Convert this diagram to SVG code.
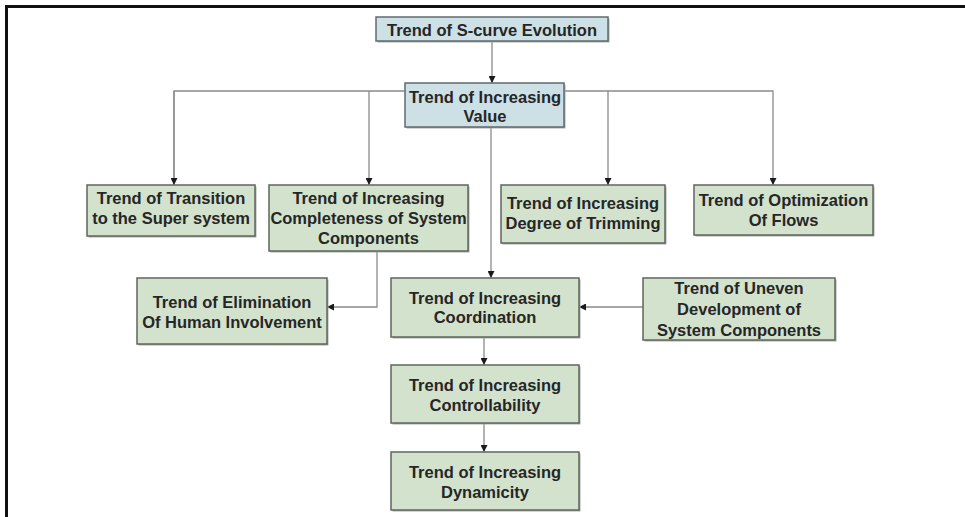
<svg xmlns="http://www.w3.org/2000/svg" width="965" height="517" viewBox="0 0 965 517">
<defs>
<style>
.blue{fill:#cde0e5;stroke:#5f6b6d;stroke-width:1.5}
.green{fill:#d3e2cd;stroke:#5f665c;stroke-width:1.5}
.sh{fill:#a9ada8}
text{font-family:"Liberation Sans",Arial,sans-serif;font-weight:bold;font-size:16.5px;fill:#262626;text-anchor:middle}
.ln{fill:none;stroke:#8a8a8a;stroke-width:1.3}
</style>
<marker id="ah" viewBox="0 0 8 8" refX="8" refY="4" markerWidth="7" markerHeight="7" markerUnits="userSpaceOnUse" orient="auto">
<path d="M0,0 L8,4 L0,8 Z" fill="#1a1a1a"/>
</marker>
</defs>
<rect width="965" height="517" fill="#ffffff"/>
<g id="frame">
<path d="M6.5,517 V6.5 H965" fill="none" stroke="#111" stroke-width="3"/>
</g>
<g id="connectors">
<line class="ln" x1="492" y1="41" x2="492" y2="83" marker-end="url(#ah)"/>
<polyline class="ln" points="174,185 174,91 773,91 773,185" marker-end="url(#ah)"/>
<line class="ln" x1="174" y1="91" x2="174" y2="185" marker-end="url(#ah)"/>
<line class="ln" x1="369" y1="91" x2="369" y2="185" marker-end="url(#ah)"/>
<line class="ln" x1="608" y1="91" x2="608" y2="185" marker-end="url(#ah)"/>
<line class="ln" x1="491" y1="127" x2="491" y2="278" marker-end="url(#ah)"/>
<polyline class="ln" points="377,251 377,307 327,307" marker-end="url(#ah)"/>
<line class="ln" x1="643" y1="307" x2="579" y2="307" marker-end="url(#ah)"/>
<line class="ln" x1="484" y1="337" x2="484" y2="365" marker-end="url(#ah)"/>
<line class="ln" x1="484" y1="423" x2="484" y2="452" marker-end="url(#ah)"/>
</g>
<g id="n-scurve">
<rect class="sh" x="377.5" y="18.5" width="232" height="24"/>
<rect class="blue" x="376" y="17" width="232" height="24"/>
<text x="492" y="36">Trend of S-curve Evolution</text>
</g>
<g id="n-value">
<rect class="sh" x="406.5" y="84.5" width="159" height="44"/>
<rect class="blue" x="405" y="83" width="159" height="44"/>
<text x="485" y="103">Trend of Increasing</text>
<text x="485" y="122">Value</text>
</g>
<g id="n-transition">
<rect class="sh" x="88.5" y="186.5" width="168" height="51"/>
<rect class="green" x="87" y="185" width="168" height="51"/>
<text x="171" y="204">Trend of Transition</text>
<text x="171" y="224">to the Super system</text>
</g>
<g id="n-completeness">
<rect class="sh" x="270.5" y="186.5" width="199" height="66"/>
<rect class="green" x="269" y="185" width="199" height="66"/>
<text x="368.5" y="204">Trend of Increasing</text>
<text x="368.5" y="224">Completeness of System</text>
<text x="368.5" y="244">Components</text>
</g>
<g id="n-trimming">
<rect class="sh" x="502.5" y="186.5" width="164" height="58"/>
<rect class="green" x="501" y="185" width="164" height="58"/>
<text x="583" y="209">Trend of Increasing</text>
<text x="583" y="229">Degree of Trimming</text>
</g>
<g id="n-flows">
<rect class="sh" x="695.5" y="186.5" width="179" height="50"/>
<rect class="green" x="694" y="185" width="179" height="50"/>
<text x="783.5" y="206">Trend of Optimization</text>
<text x="783.5" y="226">Of Flows</text>
</g>
<g id="n-elimination">
<rect class="sh" x="138.5" y="279.5" width="190" height="66"/>
<rect class="green" x="137" y="278" width="190" height="66"/>
<text x="232" y="308">Trend of Elimination</text>
<text x="232" y="328">Of Human Involvement</text>
</g>
<g id="n-coordination">
<rect class="sh" x="392.5" y="279.5" width="188" height="59"/>
<rect class="green" x="391" y="278" width="188" height="59"/>
<text x="485" y="304">Trend of Increasing</text>
<text x="485" y="323">Coordination</text>
</g>
<g id="n-uneven">
<rect class="sh" x="644.5" y="279.5" width="192" height="62"/>
<rect class="green" x="643" y="278" width="192" height="62"/>
<text x="739" y="294">Trend of Uneven</text>
<text x="739" y="315">Development of</text>
<text x="739" y="336">System Components</text>
</g>
<g id="n-controllability">
<rect class="sh" x="392.5" y="366.5" width="188" height="58"/>
<rect class="green" x="391" y="365" width="188" height="58"/>
<text x="485" y="391">Trend of Increasing</text>
<text x="485" y="411">Controllability</text>
</g>
<g id="n-dynamicity">
<rect class="sh" x="392.5" y="453.5" width="188" height="58"/>
<rect class="green" x="391" y="452" width="188" height="58"/>
<text x="485" y="478">Trend of Increasing</text>
<text x="485" y="498">Dynamicity</text>
</g>
</svg>
